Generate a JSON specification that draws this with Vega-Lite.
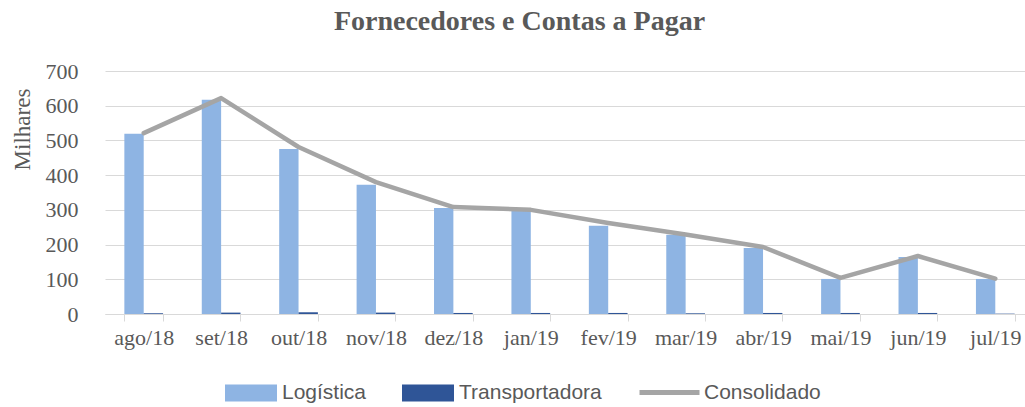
{
  "$schema": "https://vega.github.io/schema/vega-lite/v6.json",
  "width": 929,
  "height": 243,
  "autosize": "none",
  "padding": {"left": 105, "top": 71, "right": 0, "bottom": 93},
  "background": "#ffffff",
  "title": {
    "text": "Fornecedores e Contas a Pagar",
    "font": "Liberation Serif",
    "fontSize": 28,
    "fontWeight": "bold",
    "color": "#595959",
    "anchor": "middle",
    "dx": -50,
    "offset": 24
  },
  "config": {
    "view": {"stroke": null},
    "axis": {
      "labelFont": "Liberation Serif",
      "labelFontSize": 22,
      "labelColor": "#595959",
      "titleFont": "Liberation Serif",
      "titleFontSize": 23,
      "titleColor": "#595959",
      "titleFontWeight": "normal"
    },
    "legend": {
      "labelFont": "Liberation Sans",
      "labelFontSize": 21,
      "labelColor": "#595959"
    }
  },
  "data": {
    "values": [
      {"mes": "ago/18", "serie": "Logística", "valor": 519},
      {"mes": "set/18", "serie": "Logística", "valor": 617},
      {"mes": "out/18", "serie": "Logística", "valor": 475},
      {"mes": "nov/18", "serie": "Logística", "valor": 372},
      {"mes": "dez/18", "serie": "Logística", "valor": 305},
      {"mes": "jan/19", "serie": "Logística", "valor": 297},
      {"mes": "fev/19", "serie": "Logística", "valor": 254},
      {"mes": "mar/19", "serie": "Logística", "valor": 228},
      {"mes": "abr/19", "serie": "Logística", "valor": 190},
      {"mes": "mai/19", "serie": "Logística", "valor": 101},
      {"mes": "jun/19", "serie": "Logística", "valor": 164},
      {"mes": "jul/19", "serie": "Logística", "valor": 101},
      {"mes": "ago/18", "serie": "Transportadora", "valor": 2},
      {"mes": "set/18", "serie": "Transportadora", "valor": 4},
      {"mes": "out/18", "serie": "Transportadora", "valor": 5},
      {"mes": "nov/18", "serie": "Transportadora", "valor": 4},
      {"mes": "dez/18", "serie": "Transportadora", "valor": 3},
      {"mes": "jan/19", "serie": "Transportadora", "valor": 3},
      {"mes": "fev/19", "serie": "Transportadora", "valor": 3},
      {"mes": "mar/19", "serie": "Transportadora", "valor": 2},
      {"mes": "abr/19", "serie": "Transportadora", "valor": 3},
      {"mes": "mai/19", "serie": "Transportadora", "valor": 3},
      {"mes": "jun/19", "serie": "Transportadora", "valor": 3},
      {"mes": "jul/19", "serie": "Transportadora", "valor": 1},
      {"mes": "ago/18", "serie": "Consolidado", "valor": 521},
      {"mes": "set/18", "serie": "Consolidado", "valor": 622},
      {"mes": "out/18", "serie": "Consolidado", "valor": 481},
      {"mes": "nov/18", "serie": "Consolidado", "valor": 380},
      {"mes": "dez/18", "serie": "Consolidado", "valor": 308},
      {"mes": "jan/19", "serie": "Consolidado", "valor": 300},
      {"mes": "fev/19", "serie": "Consolidado", "valor": 262},
      {"mes": "mar/19", "serie": "Consolidado", "valor": 229},
      {"mes": "abr/19", "serie": "Consolidado", "valor": 193},
      {"mes": "mai/19", "serie": "Consolidado", "valor": 104},
      {"mes": "jun/19", "serie": "Consolidado", "valor": 167},
      {"mes": "jul/19", "serie": "Consolidado", "valor": 102}
    ]
  },
  "encoding": {
    "x": {
      "field": "mes",
      "type": "nominal",
      "sort": ["ago/18", "set/18", "out/18", "nov/18", "dez/18", "jan/19", "fev/19", "mar/19", "abr/19", "mai/19", "jun/19", "jul/19"],
      "scale": {"paddingInner": 0.5, "paddingOuter": 0.25},
      "axis": {
        "title": null,
        "labelAngle": 0,
        "tickBand": "extent",
        "tickSize": 7,
        "tickColor": "#D9D9D9",
        "domainColor": "#D9D9D9",
        "labelPadding": 6,
        "grid": false
      }
    },
    "y": {
      "field": "valor",
      "type": "quantitative",
      "scale": {"domain": [0, 700], "nice": false},
      "axis": {
        "title": "Milhares",
        "values": [0, 100, 200, 300, 400, 500, 600, 700],
        "grid": true,
        "gridColor": "#D9D9D9",
        "gridWidth": 1,
        "domain": false,
        "ticks": false,
        "labelPadding": 27,
        "titleAngle": -90,
        "titleX": -83,
        "titleY": 58,
        "titleAlign": "center",
        "titleBaseline": "middle"
      }
    }
  },
  "layer": [
    {
      "transform": [{"filter": "datum.serie !== 'Consolidado'"}],
      "mark": {"type": "bar"},
      "encoding": {
        "xOffset": {"field": "serie", "type": "nominal", "sort": ["Logística", "Transportadora"], "scale": {"paddingInner": 0, "paddingOuter": 0}},
        "fill": {
          "field": "serie",
          "type": "nominal",
          "sort": ["Logística", "Transportadora"],
          "scale": {"domain": ["Logística", "Transportadora"], "range": ["#8EB4E3", "#2F5597"]},
          "legend": {
            "title": null,
            "orient": "none",
            "direction": "horizontal",
            "legendX": 120,
            "legendY": 296,
            "symbolType": "M-1,-0.33H1V0.33H-1Z",
            "symbolSize": 2704,
            "symbolStrokeWidth": 0,
            "labelOffset": 5,
            "columnPadding": 35
          }
        }
      }
    },
    {
      "transform": [{"filter": "datum.serie === 'Consolidado'"}],
      "mark": {"type": "line", "strokeWidth": 4.5, "strokeCap": "round", "strokeJoin": "round"},
      "encoding": {
        "stroke": {
          "field": "serie",
          "type": "nominal",
          "scale": {"domain": ["Consolidado"], "range": ["#A5A5A5"]},
          "legend": {
            "title": null,
            "orient": "none",
            "legendX": 532,
            "legendY": 289,
            "symbolType": "stroke",
            "symbolSize": 3600,
            "symbolStrokeWidth": 5,
            "labelOffset": 2
          }
        }
      }
    }
  ]
}
